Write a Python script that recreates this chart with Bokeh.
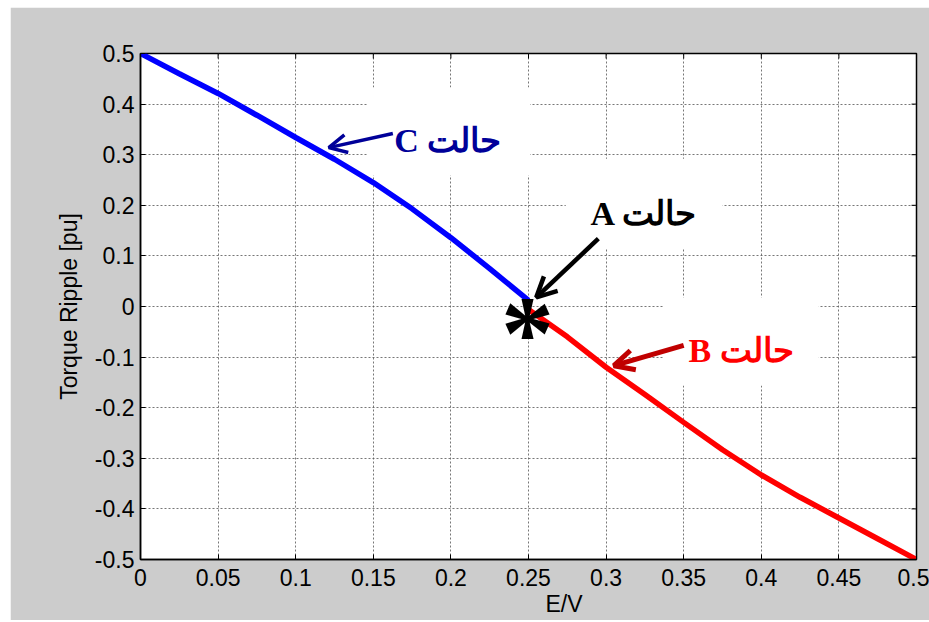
from bokeh.plotting import figure
from bokeh.models import Range1d, FixedTicker, Arrow, OpenHead, Title
from bokeh.core.properties import value
from bokeh.embed import file_html
from bokeh.resources import INLINE

# ---- data ----
x_blue = [0, 0.025, 0.05, 0.075, 0.1, 0.125, 0.15, 0.175, 0.2, 0.225, 0.25]
y_blue = [0.5, 0.46, 0.421, 0.378, 0.334, 0.291, 0.245, 0.193, 0.136, 0.075, 0.012]

x_red = [0.25, 0.275, 0.3, 0.325, 0.35, 0.375, 0.4, 0.425, 0.45, 0.475, 0.5]
y_red = [-0.006, -0.06, -0.12, -0.174, -0.229, -0.283, -0.333, -0.377, -0.418, -0.459, -0.5]

point_a_x = [0.25]
point_a_y = [0.0]

x_ticks = [0, 0.05, 0.1, 0.15, 0.2, 0.25, 0.3, 0.35, 0.4, 0.45, 0.5]
x_tick_labels = ["0", "0.05", "0.1", "0.15", "0.2", "0.25", "0.3", "0.35", "0.4", "0.45", "0.5"]
y_ticks = [-0.5, -0.4, -0.3, -0.2, -0.1, 0, 0.1, 0.2, 0.3, 0.4, 0.5]
y_tick_labels = ["-0.5", "-0.4", "-0.3", "-0.2", "-0.1", "0", "0.1", "0.2", "0.3", "0.4", "0.5"]

ann_texts = ["C حالت", "A حالت", "B حالت"]

X0, X1 = 0, 0.5
Y0, Y1 = -0.5, 0.5

# ---- figure ----
p = figure(width=919, height=613, x_range=Range1d(X0, X1), y_range=Range1d(Y0, Y1),
           output_backend="svg", toolbar_location=None, margin=(7, 0, 0, 10),
           min_border_left=130, min_border_top=46, min_border_right=13, min_border_bottom=61,
           background_fill_color="white", border_fill_color="#cccccc",
           outline_line_color="black", outline_line_width=1.5)

TICK_FONT = "23px"

xt = FixedTicker(ticks=x_ticks)
yt = FixedTicker(ticks=y_ticks)

p.xaxis.ticker = xt
p.yaxis.ticker = yt
p.xaxis.major_label_overrides = {t: l for t, l in zip(x_ticks, x_tick_labels)}
p.yaxis.major_label_overrides = {t: l for t, l in zip(y_ticks, y_tick_labels)}
for ax in (p.xaxis[0], p.yaxis[0]):
    ax.major_tick_in = 5
    ax.major_tick_out = 0
    ax.minor_tick_line_color = None
    ax.axis_line_width = 1.5
    ax.axis_line_color = "black"
    ax.major_tick_line_color = "black"
    ax.major_label_text_font = "Liberation Sans"
    ax.major_label_text_font_size = TICK_FONT
    ax.major_label_text_color = "black"
p.xaxis.major_label_standoff = 9
p.yaxis.major_label_standoff = 6

p.yaxis.axis_label = "Torque Ripple [pu]"
p.yaxis.axis_label_text_font = "Liberation Sans"
p.yaxis.axis_label_text_font_style = "normal"
p.yaxis.axis_label_text_font_size = "23px"
p.yaxis.axis_label_text_color = "black"
p.yaxis.axis_label_standoff = 10

# x axis label, shifted right as in the reference
p.add_layout(Title(text="E/V", align="left", offset=405, standoff=0,
                   text_font="Liberation Sans", text_font_style="normal",
                   text_font_size="23px", text_color="black"), "below")

p.xgrid.ticker = xt
p.ygrid.ticker = yt
for g in (p.xgrid[0], p.ygrid[0]):
    g.grid_line_color = "#555555"
    g.grid_line_dash = "2 2"
    g.grid_line_width = 1
    g.grid_line_alpha = 0.8

# inward ticks on the top and right edges of the box
tick_dy = (Y1 - Y0) * 5 / 506
tick_dx = (X1 - X0) * 5 / 776
p.segment(x0=x_ticks, y0=[Y1] * len(x_ticks), x1=x_ticks, y1=[Y1 - tick_dy] * len(x_ticks),
          line_color="black", line_width=1)
p.segment(x0=[X1] * len(y_ticks), y0=y_ticks, x1=[X1 - tick_dx] * len(y_ticks), y1=y_ticks,
          line_color="black", line_width=1)

# white label boxes that hide grid lines (as in the reference)
p.quad(left=[0.146, 0.274, 0.337], right=[0.251, 0.375, 0.437],
       top=[0.433, 0.292, 0.018], bottom=[0.259, 0.115, -0.156],
       fill_color="white", line_color=None)

# curves
p.line(x_blue, y_blue, line_color="#0000FF", line_width=5.5)
p.line(x_red, y_red, line_color="#FF0000", line_width=5.5)

# point A marker (asterisk)
p.text(x=point_a_x, y=point_a_y, text=["*"], text_font=value("Liberation Serif"),
       text_font_style="bold", text_font_size="106px", text_align="center",
       text_baseline="alphabetic", y_offset=27, x_offset=-1, text_color="black")

# annotation texts
p.text(x=[0.198], y=[0.328], text=[ann_texts[0]], text_font=value("Liberation Serif"),
       text_font_style="bold", text_font_size="34px", text_align="center",
       text_baseline="middle", text_color="#000099")
p.text(x=[0.3245], y=[0.184], text=[ann_texts[1]], text_font=value("Liberation Serif"),
       text_font_style="bold", text_font_size="34px", text_align="center",
       text_baseline="middle", text_color="black")
p.text(x=[0.387], y=[-0.087], text=[ann_texts[2]], text_font=value("Liberation Serif"),
       text_font_style="bold", text_font_size="34px", text_align="center",
       text_baseline="middle", text_color="#FF0000")

# arrows
p.add_layout(Arrow(x_start=0.1626, y_start=0.342, x_end=0.1213, y_end=0.314,
                   line_color="#000099", line_width=3.5,
                   end=OpenHead(size=18, line_width=3.5, line_color="#000099")))
p.add_layout(Arrow(x_start=0.295, y_start=0.134, x_end=0.255, y_end=0.018,
                   line_color="black", line_width=4.5,
                   end=OpenHead(size=20, line_width=4.5, line_color="black")))
p.add_layout(Arrow(x_start=0.350, y_start=-0.077, x_end=0.305, y_end=-0.117,
                   line_color="#C00000", line_width=5,
                   end=OpenHead(size=20, line_width=5, line_color="#C00000")))

open("out.html", "w").write(file_html(p, INLINE))
